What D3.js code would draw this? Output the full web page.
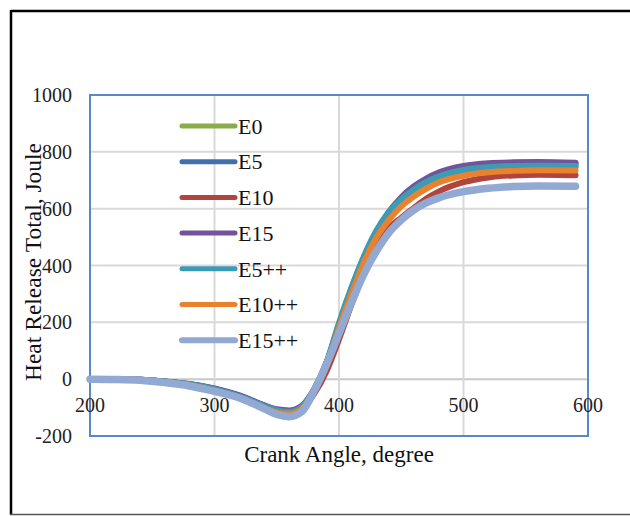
<!DOCTYPE html>
<html>
<head>
<meta charset="utf-8">
<script src="https://cdn.jsdelivr.net/npm/d3@7"></script>
<style>
  body { margin: 0; background: #fff; }
  svg { display: block; font-family: "Liberation Serif", "Times New Roman", serif; }
</style>
</head>
<body>
<script>
// crank angle samples (degree)
var angles = [200, 220, 240, 260, 280, 300, 320, 340, 350, 360, 370, 380, 390, 400, 410, 420, 430, 440, 450, 460, 470, 480, 500, 520, 540, 560, 590];

// heat release total (Joule)
var e0     = [0, 0, -2, -8, -18, -35, -60, -95, -110, -114, -97, -36, 57, 190, 315, 425, 515, 580, 628, 664, 690, 710, 732, 742, 746, 747, 745];
var e5     = [0, 0, -2, -8, -18, -34, -58, -93, -108, -112, -95, -36, 58, 192, 318, 428, 518, 585, 635, 672, 700, 720, 743, 753, 757, 758, 757];
var e10    = [0, 0, -2, -9, -20, -38, -64, -100, -115, -120, -105, -52, 28, 140, 262, 372, 460, 530, 568, 602, 635, 660, 693, 710, 717, 719, 718];
var e15    = [0, 0, -2, -8, -17, -33, -57, -92, -106, -110, -94, -38, 55, 190, 316, 428, 520, 588, 640, 678, 706, 727, 750, 760, 763, 764, 762];
var e5pp   = [0, 0, -2, -8, -18, -35, -60, -95, -110, -115, -97, -35, 60, 198, 322, 432, 522, 588, 633, 668, 694, 713, 736, 746, 750, 751, 750];
var e10pp  = [0, 0, -3, -10, -21, -40, -66, -102, -117, -122, -104, -42, 50, 180, 300, 410, 498, 560, 608, 643, 670, 692, 716, 728, 733, 735, 734];
var e15pp  = [0, -1, -4, -12, -24, -43, -66, -104, -124, -132, -115, -42, 52, 160, 270, 370, 450, 515, 560, 595, 620, 638, 660, 672, 678, 680, 679];

var seriesNames = ["E0", "E5", "E10", "E15", "E5++", "E10++", "E15++"];
var seriesValues = [e0, e5, e10, e15, e5pp, e10pp, e15pp];
var colors = ["#8aad4b", "#4270ab", "#b2443f", "#73539b", "#3d9bb3", "#e8822f", "#91a9d3"];

var xTicks = [200, 300, 400, 500, 600];
var yTicks = [-200, 0, 200, 400, 600, 800, 1000];

var width = 630, height = 516;

var svg = d3.select("body").append("svg")
    .attr("width", width)
    .attr("height", height);

// outer frame
svg.append("line").attr("x1", 11).attr("x2", width).attr("y1", 11).attr("y2", 11)
    .attr("stroke", "#000").attr("stroke-width", 2.5);
svg.append("line").attr("x1", 11).attr("x2", 11).attr("y1", 10).attr("y2", 515)
    .attr("stroke", "#000").attr("stroke-width", 2.5);
svg.append("line").attr("x1", 10).attr("x2", width).attr("y1", 514.5).attr("y2", 514.5)
    .attr("stroke", "#555").attr("stroke-width", 1.5);

var x = d3.scaleLinear().domain([200, 600]).range([90, 588]);
var y = d3.scaleLinear().domain([-200, 1000]).range([436, 95]);

// gridlines
svg.append("g")
    .selectAll("line")
    .data(yTicks)
    .enter()
    .append("line")
    .attr("x1", x(200)).attr("x2", x(600))
    .attr("y1", function(d) { return y(d); })
    .attr("y2", function(d) { return y(d); })
    .attr("stroke", function(d) { return d == 0 ? "#c8c8c8" : "#d9d9d9"; })
    .attr("stroke-width", 2);

svg.append("g")
    .selectAll("line")
    .data(xTicks)
    .enter()
    .append("line")
    .attr("x1", function(d) { return x(d); })
    .attr("x2", function(d) { return x(d); })
    .attr("y1", y(1000)).attr("y2", y(-200))
    .attr("stroke", "#d9d9d9")
    .attr("stroke-width", 2);

// plot border
svg.append("rect")
    .attr("x", x(200)).attr("y", y(1000))
    .attr("width", x(600) - x(200))
    .attr("height", y(-200) - y(1000))
    .attr("fill", "none")
    .attr("stroke", "#5a88c6")
    .attr("stroke-width", 2);

// tick labels
svg.append("g")
    .selectAll("text")
    .data(yTicks)
    .enter()
    .append("text")
    .attr("x", 72)
    .attr("y", function(d) { return y(d); })
    .attr("dy", "0.35em")
    .attr("text-anchor", "end")
    .style("font-size", "20px")
    .attr("fill", "#222")
    .text(function(d) { return d; });

svg.append("g")
    .selectAll("text")
    .data(xTicks)
    .enter()
    .append("text")
    .attr("x", function(d) { return x(d); })
    .attr("y", y(0) + 26)
    .attr("dy", "0.35em")
    .attr("text-anchor", "middle")
    .style("font-size", "20px")
    .attr("fill", "#222")
    .text(function(d) { return d; });

// series
var line = d3.line()
    .x(function(d, i) { return x(angles[i]); })
    .y(function(d) { return y(d); })
    .curve(d3.curveMonotoneX);

svg.append("g")
    .selectAll("path")
    .data(seriesValues)
    .enter()
    .append("path")
    .attr("d", line)
    .attr("fill", "none")
    .attr("stroke", function(d, i) { return colors[i]; })
    .attr("stroke-width", function(d, i) { return i == 6 ? 7.5 : 6; })
    .attr("stroke-linecap", "round")
    .attr("stroke-linejoin", "round");

// legend
var legend = svg.append("g")
    .selectAll("g")
    .data(seriesNames)
    .enter()
    .append("g")
    .attr("transform", function(d, i) { return "translate(0," + (126 + 35.7 * i) + ")"; });

legend.append("line")
    .attr("x1", 182).attr("x2", 235)
    .attr("stroke", function(d, i) { return colors[i]; })
    .attr("stroke-width", function(d, i) { return i == 6 ? 6 : 5; })
    .attr("stroke-linecap", "round");

legend.append("text")
    .attr("x", 238)
    .attr("dy", "0.35em")
    .style("font-size", "22px")
    .attr("fill", "#111")
    .text(function(d) { return d; });

// axis titles
svg.append("text")
    .attr("x", 339)
    .attr("y", 462)
    .attr("text-anchor", "middle")
    .style("font-size", "23px")
    .attr("fill", "#111")
    .text("Crank Angle,  degree");

svg.append("text")
    .attr("transform", "translate(41,262) rotate(-90)")
    .attr("text-anchor", "middle")
    .style("font-size", "23.5px")
    .attr("fill", "#111")
    .text("Heat Release Total, Joule");
</script>
</body>
</html>
